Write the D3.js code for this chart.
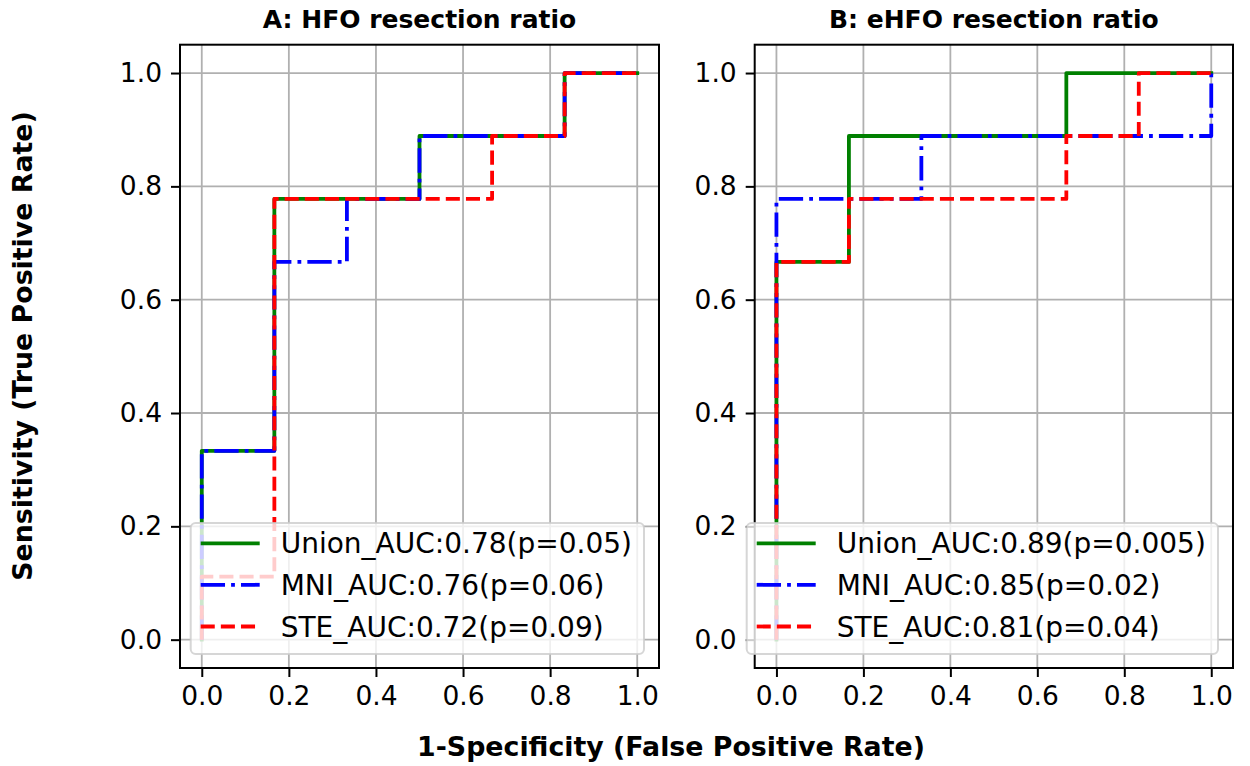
<!DOCTYPE html>
<html>
<head>
<meta charset="utf-8">
<script src="https://cdn.jsdelivr.net/npm/d3@7"></script>
<style>
  html, body { margin: 0; padding: 0; background: #fff; }
  svg { display: block; font-family: "DejaVu Sans", sans-serif; }
</style>
</head>
<body>
<svg id="chart" width="1250" height="766"></svg>
<script>
// ---------- data ----------
const panelTitles = ["A: HFO resection ratio", "B: eHFO resection ratio"];
const seriesNames = ["Union", "MNI", "STE"];
const tickValues = [0.0, 0.2, 0.4, 0.6, 0.8, 1.0];

const aUnionFpr = [0, 0, 0.1667, 0.1667, 0.5, 0.5, 0.8333, 0.8333, 1];
const aUnionTpr = [0, 0.3333, 0.3333, 0.7778, 0.7778, 0.8889, 0.8889, 1, 1];
const aMniFpr   = [0, 0, 0.1667, 0.1667, 0.3333, 0.3333, 0.5, 0.5, 0.8333, 0.8333, 1];
const aMniTpr   = [0, 0.3333, 0.3333, 0.6667, 0.6667, 0.7778, 0.7778, 0.8889, 0.8889, 1, 1];
const aSteFpr   = [0, 0, 0.1667, 0.1667, 0.6667, 0.6667, 0.8333, 0.8333, 1];
const aSteTpr   = [0, 0.1111, 0.1111, 0.7778, 0.7778, 0.8889, 0.8889, 1, 1];

const bUnionFpr = [0, 0, 0.1667, 0.1667, 0.6667, 0.6667, 1];
const bUnionTpr = [0, 0.6667, 0.6667, 0.8889, 0.8889, 1, 1];
const bMniFpr   = [0, 0, 0.3333, 0.3333, 1, 1];
const bMniTpr   = [0, 0.7778, 0.7778, 0.8889, 0.8889, 1];
const bSteFpr   = [0, 0, 0.1667, 0.1667, 0.6667, 0.6667, 0.8333, 0.8333, 1];
const bSteTpr   = [0, 0.6667, 0.6667, 0.7778, 0.7778, 0.8889, 0.8889, 1, 1];

const aLegendLabels = ["Union_AUC:0.78(p=0.05)", "MNI_AUC:0.76(p=0.06)", "STE_AUC:0.72(p=0.09)"];
const bLegendLabels = ["Union_AUC:0.89(p=0.005)", "MNI_AUC:0.85(p=0.02)", "STE_AUC:0.81(p=0.04)"];

const xLabel = "1-Specificity (False Positive Rate)";
const yLabel = "Sensitivity (True Positive Rate)";

// ---------- styles ----------
const LW = 3.8;
const seriesStyle = [
  { color: "#008000", dash: null },
  { color: "#0000ff", dash: [6.4*LW, 1.6*LW, 1*LW, 1.6*LW].join(",") },
  { color: "#ff0000", dash: [3.7*LW, 1.6*LW].join(",") }
];

const panels = [
  { title: panelTitles[0], left: 180, right: 659,
    series: [[aUnionFpr, aUnionTpr], [aMniFpr, aMniTpr], [aSteFpr, aSteTpr]],
    legend: aLegendLabels, legendBox: [190.7, 644] },
  { title: panelTitles[1], left: 754.7, right: 1233,
    series: [[bUnionFpr, bUnionTpr], [bMniFpr, bMniTpr], [bSteFpr, bSteTpr]],
    legend: bLegendLabels, legendBox: [746.7, 1218] }
];

const plotTop = 44.7, plotBottom = 668;
const svg = d3.select("#chart");
const TITLE_FONT = 25, TICK_FONT = 26.5, LEGEND_FONT = 28, LABEL_FONT = 26.8;

panels.forEach((p, pi) => {
  const x = d3.scaleLinear().domain([-0.05, 1.05]).range([p.left, p.right]);
  const y = d3.scaleLinear().domain([-0.05, 1.05]).range([plotBottom, plotTop]);
  const g = svg.append("g");

  // grid
  g.append("g").selectAll("line").data(tickValues).join("line")
    .attr("x1", d => x(d)).attr("x2", d => x(d)).attr("y1", plotTop).attr("y2", plotBottom)
    .attr("stroke", "#b0b0b0").attr("stroke-width", 1.8);
  g.append("g").selectAll("line").data(tickValues).join("line")
    .attr("y1", d => y(d)).attr("y2", d => y(d)).attr("x1", p.left).attr("x2", p.right)
    .attr("stroke", "#b0b0b0").attr("stroke-width", 1.8);

  // clip
  const clipId = "clip" + pi;
  svg.append("clipPath").attr("id", clipId).append("rect")
    .attr("x", p.left).attr("y", plotTop).attr("width", p.right - p.left).attr("height", plotBottom - plotTop);

  const line = d3.line().x(d => x(d[0])).y(d => y(d[1]));
  p.series.forEach((s, si) => {
    const pts = s[0].map((v, i) => [v, s[1][i]]);
    const st = seriesStyle[si];
    const path = g.append("path").datum(pts)
      .attr("clip-path", `url(#${clipId})`)
      .attr("d", line)
      .attr("fill", "none")
      .attr("stroke", st.color)
      .attr("stroke-width", LW)
      .attr("stroke-linejoin", "round");
    if (st.dash) path.attr("stroke-dasharray", st.dash).attr("stroke-linecap", "butt");
    else path.attr("stroke-linecap", "square");
  });

  // axes
  const xAxis = d3.axisBottom(x).tickValues(tickValues).tickFormat(d3.format(".1f")).tickSize(9).tickPadding(9);
  const yAxis = d3.axisLeft(y).tickValues(tickValues).tickFormat(d3.format(".1f")).tickSize(9).tickPadding(9);
  const gx = g.append("g").attr("transform", `translate(0,${plotBottom})`).call(xAxis);
  const gy = g.append("g").attr("transform", `translate(${p.left},0)`).call(yAxis);
  [gx, gy].forEach(ax => {
    ax.select(".domain").remove();
    ax.selectAll(".tick line").attr("stroke", "#000").attr("stroke-width", 2);
    ax.selectAll(".tick text").attr("font-size", TICK_FONT).attr("fill", "#000")
      .attr("font-family", "DejaVu Sans");
  });

  // spines
  g.append("rect").attr("x", p.left).attr("y", plotTop)
    .attr("width", p.right - p.left).attr("height", plotBottom - plotTop)
    .attr("fill", "none").attr("stroke", "#000").attr("stroke-width", 2);

  // title
  g.append("text").attr("x", (p.left + p.right) / 2).attr("y", 28)
    .attr("text-anchor", "middle").attr("font-weight", "bold")
    .attr("font-size", TITLE_FONT).text(p.title);

  // legend
  const lx0 = p.legendBox[0], lx1 = p.legendBox[1];
  const ly0 = 523, ly1 = 654;
  g.append("rect").attr("x", lx0).attr("y", ly0).attr("width", lx1 - lx0).attr("height", ly1 - ly0)
    .attr("rx", 5).attr("ry", 5)
    .attr("fill", "rgba(255,255,255,0.8)").attr("stroke", "#cccccc").attr("stroke-opacity", 0.8)
    .attr("stroke-width", 2);
  const rowY = [543.3, 584.8, 626.5];
  const handleX0 = lx0 + 10, handleX1 = lx0 + 69;
  p.legend.forEach((lab, i) => {
    const st = seriesStyle[i];
    const hl = g.append("line").attr("x1", handleX0).attr("x2", handleX1)
      .attr("y1", rowY[i]).attr("y2", rowY[i])
      .attr("stroke", st.color).attr("stroke-width", LW);
    if (st.dash) hl.attr("stroke-dasharray", st.dash);
    g.append("text").attr("x", lx0 + 90).attr("y", rowY[i] + 10)
      .attr("font-size", LEGEND_FONT).attr("fill", "#000").text(lab);
  });
});

// shared labels
svg.append("text").attr("x", 671).attr("y", 756).attr("text-anchor", "middle")
  .attr("font-weight", "bold").attr("font-size", LABEL_FONT).text(xLabel);
svg.append("text").attr("transform", "translate(32,346) rotate(-90)").attr("text-anchor", "middle")
  .attr("font-weight", "bold").attr("font-size", LABEL_FONT).text(yLabel);
</script>
</body>
</html>
